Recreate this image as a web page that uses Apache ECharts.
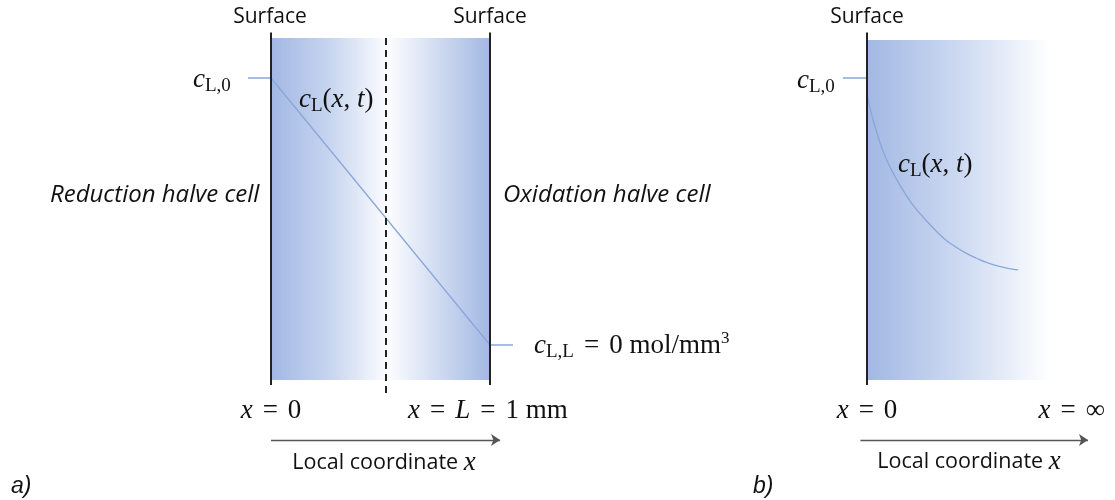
<!DOCTYPE html>
<html>
<head>
<meta charset="utf-8">
<script src="https://cdn.jsdelivr.net/npm/echarts@6/dist/echarts.min.js"></script>
<style>
  html, body { margin: 0; padding: 0; background: #ffffff; }
  #chart { width: 1115px; height: 500px; }
</style>
</head>
<body>
<div id="chart"></div>
<script>
// a) finite cell: linear concentration profile between the two surfaces
//    x in mm, concentration normalised to c_L,0
const cellX = [0, 1];
const cellC = [1, 0];
const membraneX = 0.525;

// b) semi-infinite domain: concentration decaying away from the surface
const decayX = [0, 0.05, 0.1, 0.15, 0.2, 0.25, 0.3, 0.35, 0.4, 0.45, 0.5, 0.55, 0.6, 0.65, 0.69];
const decayC = [0.936, 0.78, 0.675, 0.6, 0.535, 0.485, 0.44, 0.4, 0.37, 0.345, 0.325, 0.308, 0.295, 0.286, 0.281];

const BLUE = 'rgb(162,184,227)';
const PROFILE = '#8aa6da';
const WALL = '#222222';
const MATH = 'Liberation Serif';
const SANS = 'Open Sans';

const chart = echarts.init(document.getElementById('chart'), null, { renderer: 'canvas' });

const hGrad = (stops) => ({ type: 'linear', x: 0, y: 0, x2: 1, y2: 0, colorStops: stops });

const hiddenX = (min, max, gridIndex) => ({ type: 'value', min, max, gridIndex, show: false });
const hiddenY = (gridIndex) => ({ type: 'value', min: -0.5, max: 1.25, gridIndex, show: false });

function wall(x, bottom, top, grid, dashed) {
  return {
    type: 'line', xAxisIndex: grid, yAxisIndex: grid, silent: true, showSymbol: false,
    data: [[x, bottom], [x, top]],
    lineStyle: { color: WALL, width: 2, type: dashed ? [7, 5] : 'solid' },
    z: 4
  };
}

function axisArrow(x0, x1, y, grid) {
  return {
    type: 'lines', coordinateSystem: 'cartesian2d', xAxisIndex: grid, yAxisIndex: grid, silent: true,
    symbol: ['none', 'arrow'], symbolSize: [8, 9],
    lineStyle: { color: '#555555', width: 1.4, opacity: 1 },
    data: [{ coords: [[x0, y], [x1, y]] }],
    z: 4
  };
}

const aProfile = [[cellX[0] - 0.105, cellC[0]]]
  .concat(cellX.map((x, i) => [x, cellC[i]]))
  .concat([[cellX[1] + 0.105, cellC[1]]]);

const bProfile = decayX.map((x, i) => [x, decayC[i]]);

// rich-text styles for the formula labels
const mathRich = {
  i: { fontFamily: MATH, fontStyle: 'italic', fontSize: 27, fill: '#111' },
  r: { fontFamily: MATH, fontSize: 27, fill: '#111' },
  e: { fontFamily: MATH, fontSize: 27, fill: '#111', padding: [0, 10, 0, 10] },
  s: { fontFamily: MATH, fontSize: 19, fill: '#111', padding: [12, 0, 0, 0] },
  p: { fontFamily: MATH, fontSize: 17, fill: '#111', padding: [0, 0, 14, 0] },
  t: { fontFamily: SANS, fontSize: 21.5, fill: '#111' },
  ti: { fontFamily: MATH, fontStyle: 'italic', fontSize: 27, fill: '#111' }
};

function txt(text, x, y, align, extra) {
  return {
    type: 'text', x, y, silent: true, z: 10,
    style: Object.assign({
      text, align, verticalAlign: 'middle', rich: mathRich,
      font: '21px "' + SANS + '"', fill: '#111'
    }, extra || {})
  };
}

const italicSans = { font: 'italic 24px "' + SANS + '"' };
const panelTag = { font: 'italic 23px "Liberation Sans"' };

const option = {
  animation: false,
  backgroundColor: '#ffffff',
  grid: [
    { left: 227.2, top: 11.25, width: 306.6, height: 467.25 },
    { left: 823.2, top: 11.25, width: 284.7, height: 467.25 }
  ],
  xAxis: [hiddenX(-0.2, 1.2, 0), hiddenX(-0.2, 1.1, 1)],
  yAxis: [hiddenY(0), hiddenY(1)],
  series: [
    // shaded electrolyte regions, a)
    {
      type: 'line', xAxisIndex: 0, yAxisIndex: 0, silent: true, data: [],
      markArea: {
        silent: true,
        data: [
          [{ coord: [cellX[0], 1.15], itemStyle: { color: hGrad([
              { offset: 0, color: BLUE }, { offset: 0.5, color: 'rgb(198,212,239)' }, { offset: 1, color: 'rgb(250,251,254)' }]) } },
           { coord: [membraneX, -0.131] }],
          [{ coord: [membraneX, 1.15], itemStyle: { color: hGrad([
              { offset: 0, color: 'rgb(253,254,255)' }, { offset: 0.35, color: 'rgb(222,230,246)' }, { offset: 1, color: BLUE }]) } },
           { coord: [cellX[1], -0.131] }]
        ]
      },
      z: 1
    },
    // shaded region, b)
    {
      type: 'line', xAxisIndex: 1, yAxisIndex: 1, silent: true, data: [],
      markArea: {
        silent: true,
        data: [
          [{ coord: [0, 1.142], itemStyle: { color: hGrad([
              { offset: 0, color: 'rgb(162,184,227)' }, { offset: 0.5, color: 'rgb(204,217,241)' }, { offset: 1, color: '#ffffff' }]) } },
           { coord: [0.836, -0.131] }]
        ]
      },
      z: 1
    },
    wall(cellX[0], -0.15, 1.17, 0, false),
    wall(cellX[1], -0.15, 1.17, 0, false),
    wall(membraneX, -0.18, 1.155, 0, true),
    wall(0, -0.15, 1.17, 1, false),
    // concentration profiles
    {
      type: 'line', xAxisIndex: 0, yAxisIndex: 0, silent: true, showSymbol: false,
      data: aProfile, lineStyle: { color: PROFILE, width: 1.3 }, z: 3
    },
    {
      type: 'line', xAxisIndex: 1, yAxisIndex: 1, silent: true, showSymbol: false,
      data: [[-0.11, 1], [0, 1]], lineStyle: { color: PROFILE, width: 1.3 }, z: 3
    },
    {
      type: 'line', xAxisIndex: 1, yAxisIndex: 1, silent: true, showSymbol: false,
      smooth: true,
      data: bProfile, lineStyle: { color: PROFILE, width: 1.3 }, z: 3
    },
    axisArrow(0, 1.046, -0.356, 0),
    axisArrow(-0.03, 1.009, -0.356, 1)
  ],
  graphic: [
    txt('Surface', 270, 17, 'center'),
    txt('Surface', 490, 17, 'center'),
    txt('Surface', 867, 17, 'center'),
    txt('{i|c}{s|L,0}', 193, 80, 'left'),
    txt('{i|c}{s|L}{r|(}{i|x}{r|, }{i|t}{r|)}', 299, 100, 'left'),
    txt('Reduction halve cell', 50, 195, 'left', italicSans),
    txt('Oxidation halve cell', 503, 195, 'left', italicSans),
    txt('{i|c}{s|L,L}{e|=}{r|0 mol/mm}{p|3}', 534, 346, 'left'),
    txt('{i|x}{e|=}{r|0}', 271, 411, 'center'),
    txt('{i|x}{e|=}{i|L}{e|=}{r|1 mm}', 408, 411, 'left'),
    txt('{t|Local coordinate }{ti|x}', 384, 463, 'center'),
    txt('a)', 11, 487, 'left', panelTag),
    txt('b)', 753, 487, 'left', panelTag),
    txt('{i|c}{s|L,0}', 797, 81, 'left'),
    txt('{i|c}{s|L}{r|(}{i|x}{r|, }{i|t}{r|)}', 898, 165, 'left'),
    txt('{i|x}{e|=}{r|0}', 867, 411, 'center'),
    txt('{i|x}{e|=}{r|∞}', 1105, 411, 'right'),
    txt('{t|Local coordinate }{ti|x}', 969, 462, 'center')
  ]
};

chart.setOption(option);
</script>
</body>
</html>
